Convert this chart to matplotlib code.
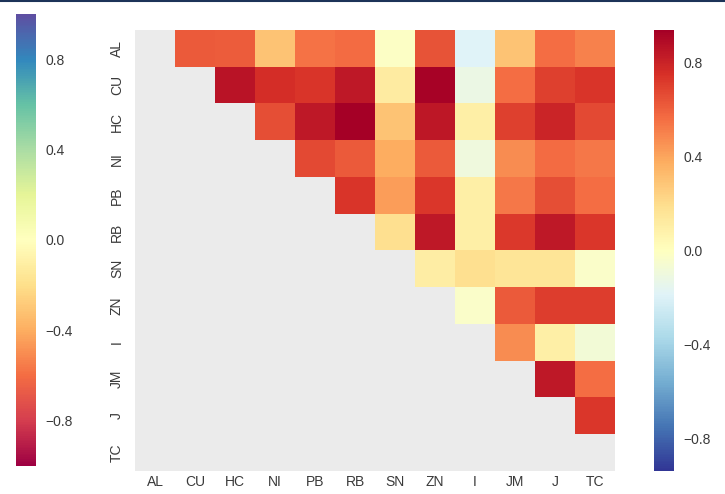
import numpy as np
from matplotlib import pyplot as plt
from matplotlib import cm, colors
from matplotlib.lines import Line2D

labels = ['AL', 'CU', 'HC', 'NI', 'PB', 'RB', 'SN', 'ZN', 'I', 'JM', 'J', 'TC']

# upper triangle, row by row (values right of the diagonal)
row_al = [0.62, 0.61, 0.30, 0.55, 0.57, -0.02, 0.64, -0.19, 0.30, 0.56, 0.50]
row_cu = [0.86, 0.76, 0.74, 0.84, 0.12, 0.93, -0.12, 0.56, 0.70, 0.74]
row_hc = [0.66, 0.84, 0.94, 0.30, 0.85, 0.10, 0.70, 0.80, 0.67]
row_ni = [0.67, 0.62, 0.38, 0.62, -0.10, 0.47, 0.57, 0.53]
row_pb = [0.74, 0.42, 0.73, 0.10, 0.53, 0.66, 0.56]
row_rb = [0.19, 0.84, 0.10, 0.72, 0.84, 0.73]
row_sn = [0.11, 0.19, 0.16, 0.16, -0.03]
row_zn = [-0.03, 0.62, 0.71, 0.71]
row_i = [0.47, 0.10, -0.08]
row_jm = [0.84, 0.56]
row_j = [0.73]

rows = [row_al, row_cu, row_hc, row_ni, row_pb, row_rb, row_sn, row_zn, row_i, row_jm, row_j]

n = len(labels)
corr = np.full((n, n), np.nan)
for i, r in enumerate(rows):
  corr[i, i + 1:] = r
data = np.ma.masked_invalid(corr)

vlim = 0.94
text_color = '#3a3a3a'

fig = plt.figure(figsize=(7.25, 4.94), dpi=100)
plt.rcParams['font.family'] = ['Liberation Sans', 'DejaVu Sans']

ax = fig.add_axes([0.1862, 0.0466, 0.6621, 0.8927])
ax.set_facecolor('#ebebeb')
im = ax.pcolormesh(data, cmap='RdYlBu_r', vmin=-vlim, vmax=vlim)
ax.set_xlim(0, n)
ax.set_ylim(n, 0)
ax.set_xticks(np.arange(n) + 0.5)
ax.set_xticklabels(labels)
ax.set_yticks(np.arange(n) + 0.5)
ax.set_yticklabels(labels, rotation=90, va='center')
ax.tick_params(length=0, labelsize=10, colors=text_color)
ax.tick_params(axis='x', pad=3)
ax.tick_params(axis='y', pad=8)
for s in ax.spines.values():
  s.set_visible(False)

# right colorbar (heatmap scale)
cax_r = fig.add_axes([0.902, 0.0466, 0.0276, 0.8927])
cb_r = fig.colorbar(im, cax=cax_r)
cb_r.set_ticks([0.8, 0.4, 0.0, -0.4, -0.8])
cb_r.outline.set_visible(False)
cax_r.tick_params(length=0, labelsize=10, colors=text_color, pad=7)

# left colorbar (Spectral, -1..1)
cax_l = fig.add_axes([0.0221, 0.0567, 0.0276, 0.915])
sm = cm.ScalarMappable(norm=colors.Normalize(-1, 1), cmap='Spectral')
cb_l = fig.colorbar(sm, cax=cax_l)
cb_l.set_ticks([0.8, 0.4, 0.0, -0.4, -0.8])
cb_l.outline.set_visible(False)
cax_l.tick_params(length=0, labelsize=10, colors=text_color, pad=7)

# top border line of the screenshot
fig.add_artist(Line2D([0, 1], [0.998, 0.998], transform=fig.transFigure, color='#1c3358', lw=1.5))

fig.savefig('out.png', dpi=100)
